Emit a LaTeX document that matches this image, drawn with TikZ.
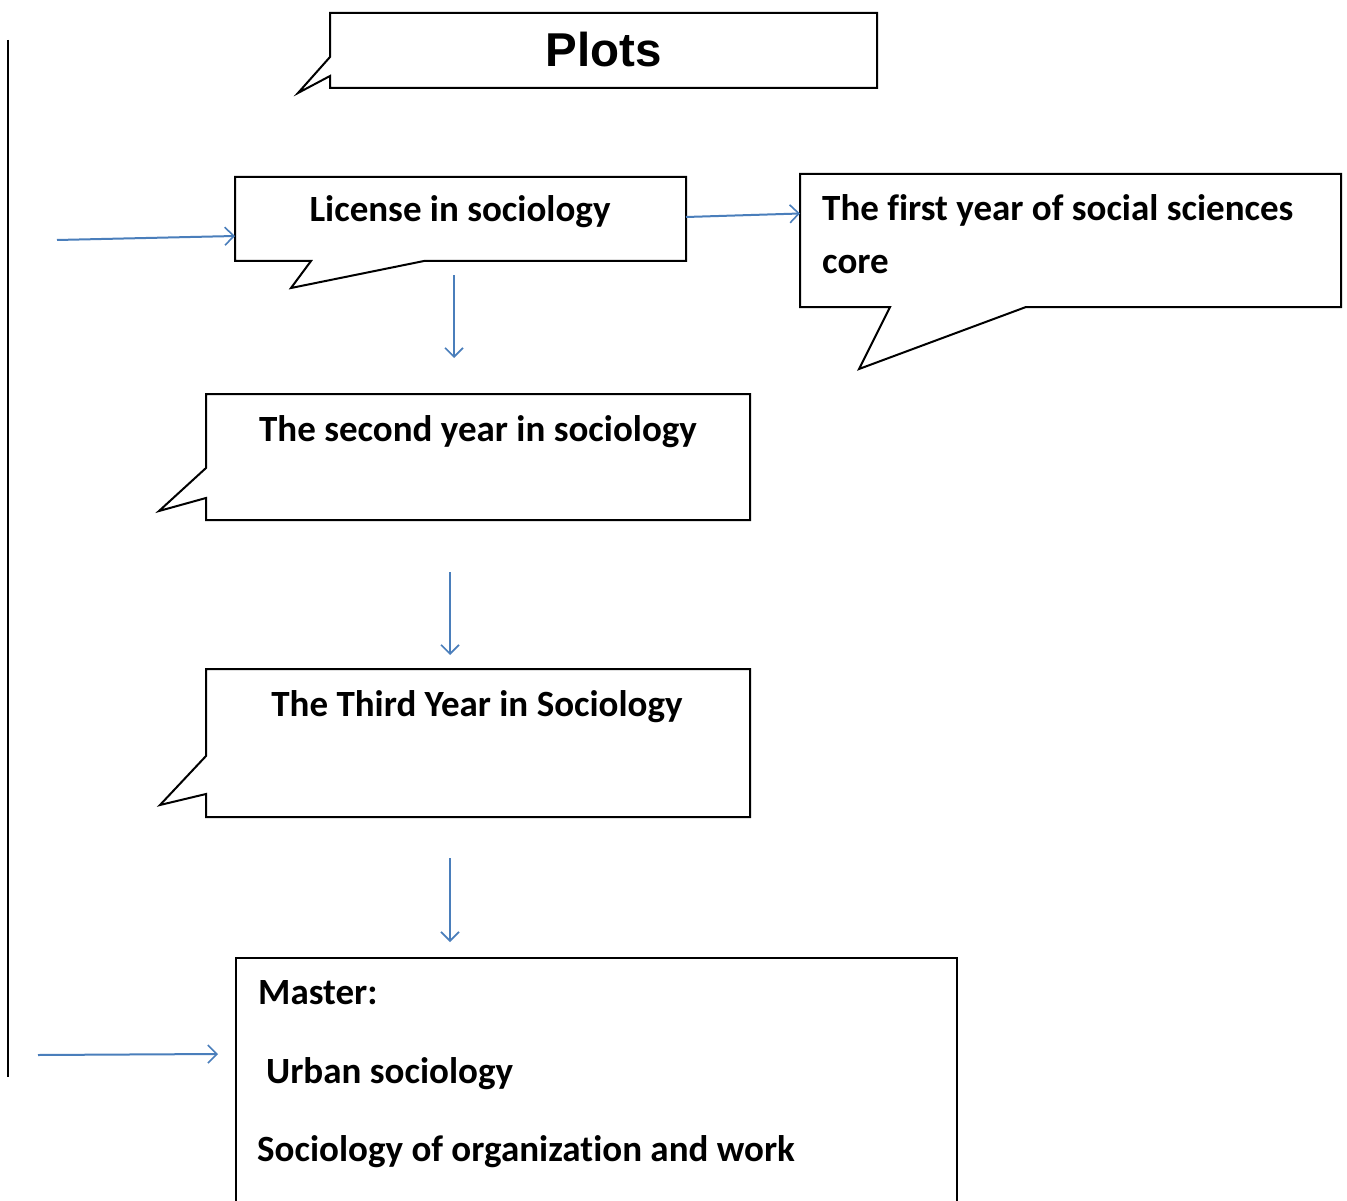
\documentclass[tikz,border=0pt]{standalone}
\usepackage{fontspec}
\setmainfont{Carlito}[Ligatures={NoCommon}]
\newfontfamily\plotsfont{Liberation Sans}
\usetikzlibrary{arrows.meta,calc}
\definecolor{arrowblue}{RGB}{74,126,187}
\begin{document}
\begin{tikzpicture}[x=1pt,y=-1pt,
  outline/.style={draw=black,line width=2pt,line join=miter},
  flow/.style={draw=arrowblue,line width=2pt,-{Straight Barb[length=9pt,width=18pt,line width=1.6pt]}},
  boxarea/.style={draw=none,inner sep=0pt,outer sep=0pt},
  lbl/.style={font=\fontsize{37}{44}\selectfont\bfseries,inner sep=0pt}]
\clip (0,0) rectangle (1347,1201);
\fill[white] (0,0) rectangle (1347,1201);
% box areas (named)
\node[boxarea,minimum width=547pt,minimum height=75pt] (plots) at (603.5,50.5) {};
\node[boxarea,minimum width=451pt,minimum height=84pt] (lic) at (460.5,219) {};
\node[boxarea,minimum width=541pt,minimum height=133pt] (first) at (1070.5,240.5) {};
\node[boxarea,minimum width=544pt,minimum height=126pt] (second) at (478,457) {};
\node[boxarea,minimum width=544pt,minimum height=148pt] (third) at (478,743) {};
\node[boxarea,minimum width=721pt,minimum height=250pt] (master) at (596.5,1083) {};
% outlines
\draw[outline] (330,13) -- (877,13) -- (877,88) -- (330,88) -- (330,76) -- (298,93) -- (330,57) -- cycle;
\draw[outline] (235,177) -- (686,177) -- (686,261) -- (424,261) -- (291,288) -- (311,261) -- (235,261) -- cycle;
\draw[outline] (800,174) -- (1341,174) -- (1341,307) -- (1026,307) -- (859,369) -- (890,307) -- (800,307) -- cycle;
\draw[outline] (206,394) -- (750,394) -- (750,520) -- (206,520) -- (206,498) -- (159,511) -- (206,468) -- cycle;
\draw[outline] (206,669) -- (750,669) -- (750,817) -- (206,817) -- (206,794) -- (160,805) -- (206,756) -- cycle;
\draw[outline] (236,1215) -- (236,958) -- (957,958) -- (957,1215);
% left rule
\coordinate (ruletop) at (8,40);
\coordinate (rulebot) at (8,1077);
\draw[black,line width=1.6pt] (ruletop) -- (rulebot);
% texts
\node[font=\plotsfont\fontsize{47.5}{54}\selectfont\bfseries,inner sep=0pt,anchor=base] (tplots) at (604,67) {Plots};
\node[lbl,anchor=base] (tlic) at (460,222) {License in sociology};
\node[lbl,anchor=base west] (tfirst1) at (822,221) {The first year of social sciences};
\node[lbl,anchor=base west] (tfirst2) at (822,273) {core};
\node[lbl,anchor=base] (tsecond) at (478,441) {The second year in sociology};
\node[lbl,anchor=base] (tthird) at (477,716) {The Third Year in Sociology};
\node[lbl,anchor=base west] (tm1) at (258,1004) {Master:};
\node[lbl,anchor=base west] (tm2) at (266,1083) {Urban sociology};
\node[lbl,anchor=base west] (tm3) at (257,1161) {Sociology of organization and work};
% connectors
\coordinate (in1) at (57,240);
\coordinate (in2) at (38,1055);
\coordinate (d1s) at (454,275);
\coordinate (d1e) at (454,358);
\coordinate (d2s) at (450,572);
\coordinate (d2e) at (450,655);
\coordinate (d3s) at (450,858);
\coordinate (d3e) at (450,942);
\draw[flow] (in1) -- ([yshift=-17pt]lic.west);
\draw[flow] ([yshift=2pt]lic.east) -- ([yshift=27pt]first.west);
\draw[flow] (d1s) -- (d1e);
\draw[flow] (d2s) -- (d2e);
\draw[flow] (d3s) -- (d3e);
\draw[flow] (in2) -- ([xshift=-18pt,yshift=29pt]master.west);
\end{tikzpicture}
\end{document}
